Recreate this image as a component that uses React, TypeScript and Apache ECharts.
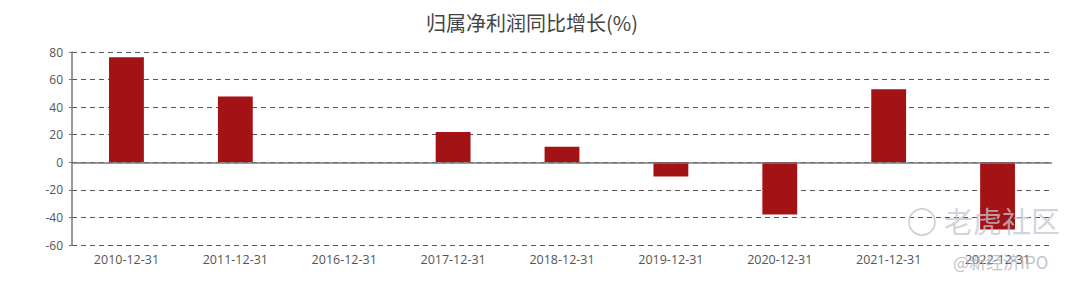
import React, { useEffect, useRef } from "react";
import * as echarts from "echarts";

const categories = [
  "2010-12-31",
  "2011-12-31",
  "2016-12-31",
  "2017-12-31",
  "2018-12-31",
  "2019-12-31",
  "2020-12-31",
  "2021-12-31",
  "2022-12-31",
];
const growth = [76.2, 47.8, 0, 22.0, 11.2, -10.3, -37.8, 53.0, -48.7];
const titleText = "归属净利润同比增长(%)";
const yMin = -60;
const yMax = 80;
const yInterval = 20;

export default function App() {
  const ref = useRef<HTMLDivElement>(null);
  useEffect(() => {
    if (!ref.current) return;
    const chart = echarts.init(ref.current, undefined, { renderer: "svg" });
    chart.setOption({
      animation: false,
      backgroundColor: "#ffffff",
      title: {
        text: titleText,
        left: 527,
        top: 7,
        textAlign: "center",
        textStyle: {
          fontFamily: "Noto Sans CJK SC, sans-serif",
          fontSize: 20,
          fontWeight: "normal",
          color: "#444",
        },
      },
      grid: { left: 72, right: 28, top: 52, bottom: 42 },
      xAxis: {
        type: "category",
        data: categories,
        axisLine: { show: false, onZero: false },
        axisTick: { show: false },
        axisLabel: {
          color: "#555",
          fontSize: 12.5,
          margin: 8,
          fontFamily: "Open Sans, sans-serif",
        },
      },
      yAxis: {
        type: "value",
        min: yMin,
        max: yMax,
        interval: yInterval,
        axisLine: { show: true, lineStyle: { color: "#777", width: 1.5 } },
        axisTick: { show: true, length: 3, lineStyle: { color: "#777" } },
        axisLabel: {
          color: "#555",
          fontSize: 12,
          margin: 9,
          fontFamily: "Open Sans, sans-serif",
        },
        splitLine: {
          show: true,
          lineStyle: { color: "#555", type: [5, 4], width: 1 },
        },
      },
      series: [
        {
          type: "bar",
          data: growth,
          barWidth: "32%",
          itemStyle: { color: "#A31214" },
          markLine: {
            silent: true,
            symbol: "none",
            label: { show: false },
            lineStyle: { color: "#777", type: "solid", width: 1.5 },
            data: [{ yAxis: 0 }],
          },
        },
      ],
      graphic: [
        {
          type: "circle",
          shape: { cx: 922, cy: 222, r: 13 },
          style: { fill: "none", stroke: "rgba(190,190,200,0.8)", lineWidth: 1.5 },
          z: 100,
        },
        {
          type: "text",
          left: 944,
          top: 205,
          style: {
            text: "老虎社区",
            fontSize: 29,
            fontFamily: "Noto Sans CJK SC, sans-serif",
            fill: "rgba(195,198,208,0.75)",
          },
          z: 100,
        },
        {
          type: "text",
          left: 953,
          top: 253,
          style: {
            text: "@新经济IPO",
            fontSize: 17,
            fontFamily: "Noto Sans CJK SC, sans-serif",
            fill: "rgba(175,178,188,0.8)",
          },
          z: 100,
        },
      ],
    });
    return () => chart.dispose();
  }, []);
  return (
    <div
      ref={ref}
      style={{ position: "fixed", left: 0, top: 0, width: 1080, height: 287 }}
    />
  );
}
